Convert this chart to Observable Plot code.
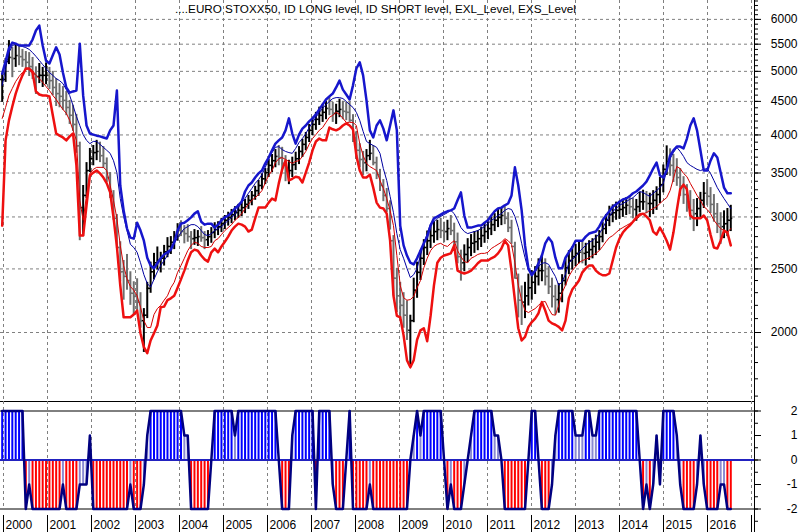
<!DOCTYPE html>
<html><head><meta charset="utf-8">
<script src="https://cdn.jsdelivr.net/npm/d3@7"></script>
<script src="https://cdn.jsdelivr.net/npm/@observablehq/plot@0.6"></script>
<style>
body{margin:0;background:#fff;}
#chart{position:relative;width:801px;height:532px;overflow:hidden;font-family:"Liberation Sans",Arial,sans-serif;background:#fff;}
#top,#bottom{position:absolute;left:0;}
#top{top:0}
#bottom{top:401px}
#title{position:absolute;top:2px;left:0;width:751px;text-align:center;font-size:11.7px;color:#000;white-space:nowrap;}
</style></head>
<body><div id="chart"><div id="top"></div><div id="bottom"></div><div id="title">....EURO STOXX50, ID LONG level, ID SHORT level, EXL_Level, EXS_Level</div></div>
<script>
// 4-weekly bars, first bar early Jan 2000
const high = [
4945,5230,5570,5440,5510,5475,5400,5360,5340,5250,5080,5140,5070,
5150,5070,5000,4875,4790,4740,4660,4515,4440,4300,3900,3350,3630,
3815,3855,3925,3900,3840,3690,3505,3290,3025,2750,2575,2630,2475,
2390,2415,2300,2175,2385,2560,2640,2700,2650,2715,2790,2800,2850,
2930,2960,2910,2920,2850,2870,2860,2900,2850,2860,2890,2940,2950,
2985,3015,3050,3080,3110,3135,3155,3190,3235,3280,3340,3410,3490,
3555,3670,3735,3800,3855,3830,3720,3660,3700,3765,3840,3940,4035,
4150,4255,4330,4410,4455,4500,4565,4485,4455,4535,4500,4485,4485,
4295,4050,3880,3775,3800,3925,3855,3700,3545,3420,3315,3175,2810,
2505,2385,2300,2235,2125,2420,2560,2665,2770,2855,2900,2950,2965,
2985,2945,2965,3015,2935,2835,2670,2720,2780,2820,2850,2860,2890,
2935,2950,2995,3035,3080,3100,3110,3045,2965,2745,2455,2355,2385,
2455,2485,2520,2590,2625,2590,2520,2420,2360,2375,2450,2590,2665,
2700,2725,2755,2755,2735,2760,2780,2815,2860,2945,3025,3115,3130,
3160,3170,3190,3210,3225,3200,3190,3270,3295,3280,3260,3290,3335,
3445,3600,3850,3810,3735,3680,3555,3455,3360,3290,3190,3200,3270,
3385,3420,3325,3245,3145,3045,3065,3090,3125];
const low = [
4485,4810,5120,4890,5070,5100,5070,5030,4910,4860,4610,4790,4725,
4770,4690,4590,4420,4400,4360,4280,4150,4050,3750,2760,2800,3200,
3505,3590,3655,3630,3555,3385,3200,2965,2685,2390,2240,2320,2200,
2125,2150,2030,1865,2100,2295,2405,2490,2465,2525,2600,2630,2675,
2755,2800,2730,2745,2675,2715,2705,2745,2675,2705,2735,2780,2810,
2840,2870,2905,2930,2960,2985,3005,3035,3080,3120,3180,3225,3300,
3360,3445,3505,3565,3590,3540,3395,3360,3445,3530,3605,3695,3785,
3895,3990,4065,4135,4180,4220,4280,4180,4150,4250,4220,4205,4180,
3895,3670,3565,3470,3515,3655,3590,3420,3280,3165,3045,2865,2275,
2145,2100,2030,1945,1780,2070,2255,2400,2530,2620,2685,2735,2760,
2780,2740,2760,2810,2695,2545,2395,2475,2555,2610,2640,2665,2695,
2735,2770,2810,2850,2890,2910,2920,2840,2725,2415,2105,2050,2100,
2195,2240,2285,2355,2390,2355,2285,2180,2125,2140,2220,2355,2450,
2490,2520,2545,2545,2525,2575,2590,2620,2665,2740,2820,2900,2940,
2965,2975,2995,3015,3025,2980,2955,3045,3070,3035,2995,3025,3070,
3145,3265,3470,3460,3385,3340,3225,3135,3050,2965,2850,2900,2985,
3090,3120,3035,2945,2830,2725,2780,2800,2850];
const close = [
4860,5175,5250,5230,5285,5265,5210,5160,5085,4945,4910,4930,4930,
4930,4840,4725,4625,4580,4515,4405,4285,4150,3850,3100,3235,3530,
3680,3760,3775,3720,3620,3445,3235,2985,2695,2475,2435,2400,2295,
2270,2225,2085,2125,2335,2475,2555,2575,2595,2655,2705,2745,2800,
2860,2850,2830,2800,2780,2790,2800,2790,2770,2800,2840,2870,2900,
2930,2965,2995,3025,3045,3070,3100,3135,3180,3235,3290,3350,3430,
3505,3595,3655,3710,3695,3620,3530,3530,3605,3680,3775,3870,3965,
4065,4150,4225,4285,4330,4390,4375,4315,4345,4375,4345,4330,4210,
3965,3790,3670,3630,3720,3750,3630,3480,3350,3235,3090,2760,2420,
2275,2200,2125,2015,2085,2320,2470,2595,2695,2760,2810,2850,2870,
2860,2850,2880,2860,2750,2610,2555,2630,2695,2735,2750,2780,2810,
2850,2880,2920,2965,2995,3015,2985,2890,2705,2420,2240,2225,2275,
2340,2385,2435,2485,2485,2435,2350,2270,2245,2295,2400,2510,2575,
2610,2640,2650,2640,2650,2675,2705,2745,2800,2880,2965,3025,3045,
3070,3080,3100,3125,3110,3080,3110,3165,3165,3145,3145,3180,3245,
3360,3545,3645,3595,3530,3445,3340,3245,3165,3070,3035,3090,3180,
3260,3225,3135,3035,2930,2900,2930,2965,2985];
// EXS_Level (thick blue)
const exsLevel = [
4960,5180,5420,5530,5510,5475,5475,5475,5475,5590,5770,5870,5475,
5190,5140,5290,5440,5305,4980,4725,4640,4660,4675,5510,4595,4135,
4020,4005,3990,3980,3965,3950,4065,4135,4675,3350,3070,2880,2790,
2780,2940,2860,2760,2600,2530,2505,2550,2595,2630,2650,2675,2745,
2860,2930,2940,2965,2995,3035,3060,2950,2920,2930,2930,2890,2920,
2965,2995,3015,3045,3090,3125,3165,3280,3350,3385,3445,3495,3530,
3620,3695,3790,3880,3925,3965,4065,4240,4020,3880,4005,4090,4135,
4195,4240,4300,4375,4450,4530,4580,4625,4725,4840,4690,4610,4530,
4760,5050,5160,4930,4515,4065,3965,4135,4210,4090,3925,4135,4360,
4065,2910,2715,2620,2555,2540,2595,2665,2735,2800,2910,2985,3005,
3025,3045,3060,3070,3090,3180,3270,3015,2890,2890,2900,2910,2910,
2940,2965,3015,3060,3090,3100,3125,3145,3235,3570,3350,3070,2715,
2505,2445,2485,2550,2620,2735,2790,2745,2600,2505,2505,2600,2650,
2695,2760,2760,2760,2800,2830,2840,2850,2900,2965,3015,3060,3110,
3135,3165,3190,3200,3225,3260,3280,3315,3350,3395,3470,3555,3630,
3470,3445,3530,3720,3790,3840,3840,3815,3950,4135,4240,4065,3790,
3530,3530,3655,3750,3695,3505,3325,3260,3260];
// ID SHORT level (thin blue)
const idShort = [
4760,5050,5340,5475,5495,5475,5455,5435,5400,5340,5270,5195,5120,
5050,4980,4930,4875,4840,4790,4690,4595,4435,4270,4135,4005,3925,
3880,3910,3910,3870,3830,3790,3750,3655,3505,3200,3005,2860,2725,
2695,2650,2555,2450,2375,2345,2410,2475,2530,2575,2620,2675,2735,
2790,2840,2880,2900,2920,2920,2900,2860,2820,2810,2830,2860,2880,
2900,2930,2965,2995,3025,3100,3155,3200,3260,3315,3375,3420,3480,
3570,3680,3760,3830,3840,3800,3775,3760,3750,3815,3895,3950,4020,
4105,4180,4255,4330,4390,4450,4500,4545,4560,4560,4545,4500,4450,
4405,4330,4210,4050,3910,3880,3855,3830,3750,3555,3410,3225,3045,
2830,2675,2595,2505,2425,2450,2505,2620,2735,2830,2930,2950,2985,
3005,3025,3045,3070,3035,2965,2890,2850,2830,2840,2850,2860,2880,
2900,2930,2965,2985,3015,3035,3070,3090,3080,3005,2890,2735,2600,
2485,2470,2475,2520,2550,2555,2540,2485,2435,2360,2390,2455,2550,
2585,2610,2650,2685,2715,2745,2760,2790,2830,2880,2950,3005,3060,
3090,3125,3145,3165,3190,3210,3245,3280,3270,3245,3225,3260,3290,
3325,3375,3530,3680,3760,3830,3775,3710,3630,3595,3570,3545,3530,
3545,3555,3495,3410,3325,3260,3200,3145,3090];
// EXL_Level (thick red)
const exlLevel = [
2910,3925,4210,4420,4625,4790,4930,5050,5050,4980,4660,4610,4595,
4595,4580,4285,4020,3990,3965,3925,3980,4020,3595,2810,2810,3125,
3470,3505,3530,3495,3445,3375,3270,2995,2705,2360,2110,2110,2110,
2130,2160,1995,1900,1860,1945,1995,2050,2185,2190,2240,2255,2275,
2340,2410,2485,2575,2650,2675,2665,2620,2585,2565,2650,2685,2650,
2705,2750,2800,2860,2900,2930,2920,2900,2850,2870,2985,3100,3100,
3100,3155,3200,3180,3375,3545,3655,3410,3430,3455,3445,3385,3505,
3630,3790,3910,3950,3925,3925,4105,4080,4065,4090,4135,4165,4135,
4080,3720,3530,3445,3445,3480,3325,3155,3100,3090,3035,2760,2275,
2120,2110,1980,1815,1770,1815,1950,2015,2030,1940,2120,2360,2555,
2600,2620,2630,2640,2715,2485,2470,2460,2470,2485,2515,2550,2575,
2575,2575,2595,2610,2640,2685,2760,2715,2485,2240,2030,1945,1970,
2040,2075,2100,2140,2225,2160,2085,2065,2055,2040,2015,2085,2255,
2325,2360,2400,2470,2505,2530,2530,2485,2460,2445,2445,2460,2575,
2695,2780,2840,2880,2910,2950,2995,3025,3035,3005,2965,2850,2820,
2890,2830,2760,2675,2840,3070,3305,3360,3305,3015,2985,2985,2985,
3015,2965,2820,2695,2685,2760,2860,2840,2715];
// ID LONG level (thin red)
const idLong = [
4240,4405,4595,4710,4825,4910,4980,5030,5050,5015,4930,4875,4810,
4740,4675,4595,4530,4450,4375,4315,4210,4065,3925,3180,2965,3235,
3495,3545,3570,3570,3570,3530,3350,3180,2985,2715,2530,2415,2350,
2320,2275,2185,2085,2035,2035,2130,2175,2200,2240,2275,2340,2385,
2470,2530,2595,2665,2715,2745,2735,2705,2695,2695,2705,2760,2780,
2820,2860,2890,2920,2965,2995,3035,3090,3135,3180,3210,3245,3290,
3385,3470,3530,3630,3680,3695,3670,3645,3620,3645,3655,3710,3775,
3870,3950,4005,4065,4105,4180,4255,4285,4330,4300,4240,4180,4180,
4180,4135,3880,3720,3620,3580,3555,3530,3410,3315,3200,3070,2910,
2620,2360,2260,2240,2245,2270,2340,2400,2510,2595,2665,2705,2725,
2735,2715,2705,2735,2760,2665,2610,2565,2555,2595,2610,2630,2640,
2640,2650,2685,2705,2725,2745,2780,2760,2725,2555,2360,2240,2160,
2145,2160,2175,2200,2225,2230,2175,2130,2125,2200,2300,2360,2435,
2485,2520,2555,2575,2585,2600,2620,2640,2665,2705,2750,2790,2810,
2840,2870,2890,2910,2930,2950,2975,3005,3035,3045,3070,3090,3110,
3145,3180,3210,3290,3430,3580,3555,3495,3455,3375,3305,3235,3180,
3110,3080,3035,2965,2920,2880,2860,2840,2880];
// lower panel state (-2..2)
const idState = [
2,2,2,2,2,2,2,-2,-1,-2,-2,-2,-2,
-2,-2,-2,-2,-2,-1,-2,-2,-2,-2,-1,-1,-1,
1,-2,-2,-2,-2,-2,-2,-2,-2,-2,-2,-2,-1,
-2,-2,-2,-1,1,2,2,2,2,2,2,2,2,
2,2,1,1,-2,-2,-2,-2,-2,-2,0,2,2,
2,2,2,2,1,2,2,2,2,2,2,2,2,
2,2,2,2,0,-2,-2,-2,1,2,2,2,2,
2,2,-2,2,2,2,2,-1,-2,-2,-2,0,2,
-2,-2,-2,-2,-2,-1,-2,-2,-2,-2,-2,-2,-2,
-2,-2,-2,-2,0,1,2,1,2,2,2,2,2,
2,0,-2,-1,-2,-2,-2,-1,0,1,2,2,2,
2,2,2,1,1,0,-2,-2,-2,-2,-2,-2,-2,
0,2,2,0,-2,-2,-2,-1,1,2,2,2,2,
2,1,1,1,2,2,1,1,2,2,2,2,2,
2,2,2,2,2,2,2,0,-2,-1,-2,-1,1,
-1,2,2,2,2,1,-1,-2,-2,-2,-2,-1,1,
-1,-2,-2,-2,-2,-1,-1,-2,-2];
const yearLabels = ["2000","2001","2002","2003","2004","2005","2006","2007","2008","2009","2010","2011","2012","2013","2014","2015","2016"];
const priceTicks = [2000,2500,3000,3500,4000,4500,5000,5500,6000];
const stateTicks = [-2,-1,0,1,2];

const T0 = 1999.9705, DT = 28/365.25;
const rows = high.map((h, i) => ({
  t: T0 + i * DT, high: h, low: low[i], close: close[i], open: i ? close[i - 1] : close[0],
  exs: exsLevel[i], ids: idShort[i], exl: exlLevel[i], idl: idLong[i], v: idState[i]
}));
const years = d3.range(2000, 2018);
const XD = [2000 - 3 / 44, 2000 + 751 / 44];
const PX = 1 / 44;
const font = {fontFamily: "'Liberation Sans', Arial, sans-serif", fontSize: "12px", background: "transparent", color: "#000"};
const barColor = d => d.close >= d.open ? "#000000" : "#6e6e6e";
const grid = {stroke: "#808080", strokeOpacity: 1, strokeDasharray: "3,3"};

// right-hand axis: minor ticks, major ticks and labels, drawn in the right margin
function rightAxis(major, minor) {
  return [
    Plot.ruleY(minor, {y: d => d, x1: XD[1], x2: XD[1] + 4 * PX, stroke: "#000"}),
    Plot.ruleY(major, {y: d => d, x1: XD[1], x2: XD[1] + 7 * PX, stroke: "#000"}),
    Plot.text(major, {y: d => d, x: XD[1], text: d => String(d), textAnchor: "end", dx: 43, fontSize: 12, fill: "#000"})
  ];
}

const topPlot = Plot.plot({
  width: 801, height: 402, marginTop: 0, marginBottom: 1, marginLeft: 0, marginRight: 47,
  x: {domain: XD, axis: null},
  y: {type: "log", domain: [1570, 6411], axis: null},
  style: font,
  marks: [
    Plot.gridY(priceTicks, grid),
    Plot.gridX(years, grid),
    Plot.ruleX(rows, {x: "t", y1: "low", y2: "high", stroke: barColor, strokeWidth: 2}),
    Plot.ruleY(rows, {y: "open", x1: d => d.t - 2 * PX, x2: d => d.t, stroke: barColor, strokeWidth: 1.5}),
    Plot.ruleY(rows, {y: "close", x1: d => d.t, x2: d => d.t + 2 * PX, stroke: barColor, strokeWidth: 1.5}),
    Plot.line(rows, {x: "t", y: "idl", stroke: "#d40000", strokeWidth: 1}),
    Plot.line(rows, {x: "t", y: "ids", stroke: "#0000a0", strokeWidth: 1}),
    Plot.line(rows, {x: "t", y: "exl", stroke: "#ee1010", strokeWidth: 2.5}),
    Plot.line(rows, {x: "t", y: "exs", stroke: "#1616cc", strokeWidth: 2.5}),
    Plot.ruleX([XD[1]], {stroke: "#000"}),
    Plot.ruleY([1570], {stroke: "#000"}),
    ...rightAxis(priceTicks, d3.range(1600, 6500, 100))
  ]
});
document.getElementById("top").appendChild(topPlot);

const botPlot = Plot.plot({
  width: 801, height: 131, marginTop: 0, marginBottom: 0, marginLeft: 0, marginRight: 47,
  x: {domain: XD, axis: null},
  y: {domain: [-2.959, 2.388], axis: null},
  style: font,
  marks: [
    Plot.ruleX(years, {y1: 2.388, y2: -2, ...grid}),
    Plot.ruleX(rows.filter(d => d.v !== 0), {x: "t", y1: 0, y2: "v",
      stroke: d => Math.abs(d.v) === 1 ? "#8a8ad2" : d.v > 0 ? "#0000ff" : "#ff0000", strokeWidth: 2}),
    Plot.ruleY([0], {stroke: "#2222c0", strokeWidth: 2}),
    Plot.ruleY([2, -2], {stroke: "#000"}),
    Plot.line(rows, {x: "t", y: "v", stroke: "#000080", strokeWidth: 2.5}),
    Plot.ruleX([XD[1]], {stroke: "#000"}),
    Plot.ruleX(years, {y1: -2.265, y2: -2.959, stroke: "#000"}),
    Plot.text(yearLabels, {x: d => +d, y: -2.67, text: d => d, textAnchor: "start", dx: 2, fontSize: 12, fill: "#000"}),
    ...rightAxis(stateTicks, d3.range(-2.5, 2.01, 0.5))
  ]
});
document.getElementById("bottom").appendChild(botPlot);
</script>
</body></html>
